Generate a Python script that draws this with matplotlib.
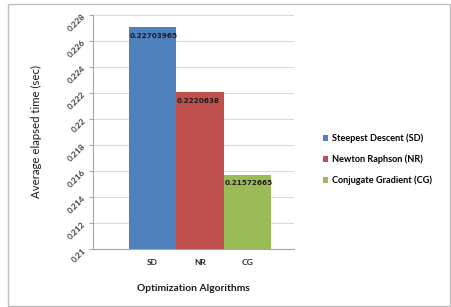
import matplotlib.pyplot as plt
from matplotlib.patches import Rectangle

plt.rcParams['font.family'] = ['Lato', 'DejaVu Sans']

algos = ["SD", "NR", "CG"]
names = ["Steepest Descent (SD)", "Newton Raphson (NR)", "Conjugate Gradient (CG)"]
times = [0.22703965, 0.2220638, 0.21572665]
value_labels = ["0.22703965", "0.2220638", "0.21572665"]
colors = ["#4F81BD", "#C0504D", "#9BBB59"]
yticks = [0.21, 0.212, 0.214, 0.216, 0.218, 0.22, 0.222, 0.224, 0.226, 0.228]
ytick_labels = ["0.21", "0.212", "0.214", "0.216", "0.218", "0.22", "0.222", "0.224", "0.226", "0.228"]

fig = plt.figure(figsize=(4.51, 3.07), dpi=100)
fig.patches.append(Rectangle((8 / 451, 0.004), 1 - 9.5 / 451, 0.984, transform=fig.transFigure,
                             fill=False, edgecolor="#BFBFBF", linewidth=1.0))

ax = fig.add_axes([93 / 451, 58 / 307, 201 / 451, 234 / 307])
xs = range(len(algos))
bars = []
for x, t, c, n in zip(xs, times, colors, names):
    b = ax.bar(x, t, width=1.0, color=c, label=n, zorder=2)
    bars.append(b)

for x, t, lab in zip(xs, times, value_labels):
    ax.annotate(lab, xy=(x - 0.5, t), xytext=(0.5, -4), textcoords="offset points",
                ha="left", va="top", fontsize=5.2, fontweight="bold", color="#1a1a1a",
                family=["DejaVu Sans"])

ax.set_ylim(0.21, 0.228)
ax.set_xlim(-1.26, 2.99)
ax.set_yticks(yticks)
ax.set_yticklabels(ytick_labels, rotation=45, fontsize=6, fontweight="bold", color="#404040",
                   ha="right", va="center", rotation_mode="anchor")
ax.set_xticks(list(xs))
ax.set_xticklabels(algos, fontsize=6, fontweight="bold", color="#262626")
ax.tick_params(axis="x", length=0, pad=7)
ax.tick_params(axis="y", length=3, color="#A6A6A6", pad=3)
ax.grid(axis="y", color="#D9D9D9", linewidth=0.8, zorder=0)
for s in ["top", "right"]:
    ax.spines[s].set_visible(False)
for s in ["left", "bottom"]:
    ax.spines[s].set_color("#A6A6A6")
    ax.spines[s].set_linewidth(0.8)

ax.set_ylabel("Average elapsed time (sec)", fontsize=8.2, color="#1a1a1a", labelpad=18)
ax.set_xlabel("Optimization Algorithms", fontsize=7.4, fontweight="bold", color="#1a1a1a", labelpad=13)

fig.legend(handles=[b[0] for b in bars], labels=names, loc="upper left",
           bbox_to_anchor=(318 / 451, 1 - 129 / 307), frameon=False,
           prop={"size": 6.6, "weight": "bold"}, handlelength=0.6, handleheight=0.6,
           handletextpad=0.4, labelspacing=1.25, borderpad=0)

plt.savefig("out.png", dpi=100)
